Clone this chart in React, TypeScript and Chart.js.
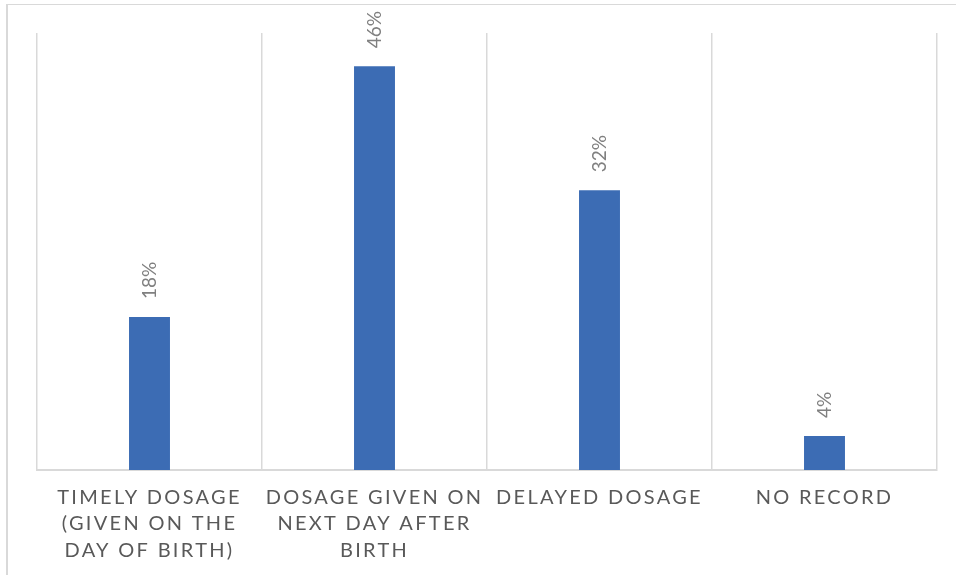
import React, { useEffect, useRef } from "react";
import { Chart, registerables } from "chart.js";

Chart.register(...registerables);

const categories: string[][] = [
  ["TIMELY DOSAGE", "(GIVEN ON THE", "DAY OF BIRTH)"],
  ["DOSAGE GIVEN ON", "NEXT DAY AFTER", "BIRTH"],
  ["DELAYED DOSAGE"],
  ["NO RECORD"],
];
const values: number[] = [17.5, 46.2, 32, 3.9];
const yMin = 0;
const yMax = 50;

const FONT = "Lato, 'Open Sans', sans-serif";

const spacingPlugin = {
  id: "spacing",
  beforeLayout(chart: any) {
    chart.ctx.letterSpacing = "2.3px";
  },
  beforeDraw(chart: any) {
    chart.ctx.letterSpacing = "2.3px";
  },
};

const dataLabelPlugin = {
  id: "dataLabels",
  afterDatasetsDraw(chart: any) {
    const ctx = chart.ctx;
    const meta = chart.getDatasetMeta(0);
    ctx.save();
    ctx.letterSpacing = "0px";
    ctx.fillStyle = "#808080";
    ctx.font = `19px ${FONT}`;
    ctx.textAlign = "left";
    ctx.textBaseline = "middle";
    meta.data.forEach((bar: any, i: number) => {
      ctx.save();
      ctx.translate(bar.x, bar.y - 18);
      ctx.rotate(-Math.PI / 2);
      ctx.fillText(Math.round(values[i]) + "%", 0, 0);
      ctx.restore();
    });
    ctx.restore();
  },
};

export default function App() {
  const ref = useRef<HTMLCanvasElement | null>(null);
  useEffect(() => {
    if (!ref.current) return;
    const chart = new Chart(ref.current, {
      type: "bar",
      data: {
        labels: categories,
        datasets: [
          {
            data: values,
            backgroundColor: "#3C6CB4",
            borderWidth: 0,
            categoryPercentage: 1,
            barPercentage: 0.182,
          },
        ],
      },
      options: {
        responsive: false,
        animation: false,
        layout: { padding: { left: 37, right: 19, top: 33, bottom: 0 } },
        plugins: { legend: { display: false }, tooltip: { enabled: false } },
        scales: {
          x: {
            offset: true,
            grid: {
              offset: true,
              color: "#D9D9D9",
              lineWidth: 1.5,
              drawTicks: false,
            },
            border: { display: true, color: "#D9D9D9", width: 2 },
            ticks: {
              color: "#595959",
              font: { family: FONT, size: 20, lineHeight: 1.33 },
              padding: 14,
              maxRotation: 0,
              minRotation: 0,
              autoSkip: false,
            },
            afterFit(scale: any) {
              scale.height = 105;
            },
          },
          y: {
            display: false,
            min: yMin,
            max: yMax,
          },
        },
      },
      plugins: [spacingPlugin, dataLabelPlugin],
    });
    return () => chart.destroy();
  }, []);
  return (
    <div
      style={{
        position: "absolute",
        left: 0,
        top: 0,
        width: 956,
        height: 575,
        background: "#fff",
      }}
    >
      <div
        style={{
          position: "absolute",
          left: 6,
          top: 4,
          width: 960,
          height: 600,
          borderTop: "1px solid #D9D9D9",
          borderLeft: "2px solid #D9D9D9",
        }}
      />
      <canvas
        ref={ref}
        width={956}
        height={575}
        style={{ position: "absolute", left: 0, top: 0 }}
      />
    </div>
  );
}
